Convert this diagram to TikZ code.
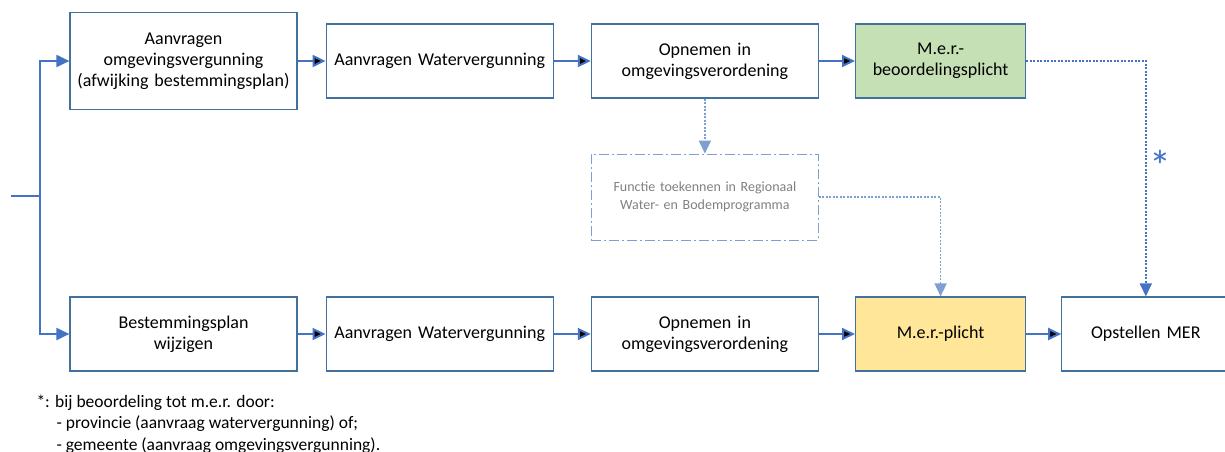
\documentclass[tikz,border=0pt]{standalone}
\usepackage{fontspec}
\setmainfont{Carlito}
\usetikzlibrary{arrows.meta,positioning}
\definecolor{randblauw}{HTML}{41719C}
\definecolor{pijlblauw}{HTML}{4472C4}
\definecolor{lichtblauw}{HTML}{7F9FD3}
\definecolor{mergroen}{HTML}{C5E0B4}
\definecolor{mergeel}{HTML}{FFE699}
\begin{document}
\begin{tikzpicture}[x=1pt,y=-1pt,>={Triangle[length=13pt,width=12pt]},
                    node distance=28pt]
  \tikzstyle{stap}=[draw=randblauw,line width=1.2pt,minimum width=227pt,
                    minimum height=74pt,text width=222pt,align=center,inner sep=0pt,
                    font=\fontsize{18}{21}\selectfont]
  \tikzstyle{functie}=[stap,draw=lichtblauw,line width=1pt,text=gray,
                    dash pattern=on 10pt off 3pt on 2pt off 3pt,minimum height=86pt,
                    font=\fontsize{14}{18}\selectfont]
  \tikzstyle{stroom}=[->,draw=pijlblauw,line width=2pt]
  \tikzstyle{stip}=[->,line width=1.6pt,dash pattern=on 2pt off 1.5pt]
  \useasboundingbox (0,0) rectangle (1225,452);

  \node[stap,minimum height=97pt] (A1) at (183.5,61)
       {Aanvragen\\omgevingsvergunning\\(afwijking bestemmingsplan)};
  \node[stap]          (A2) [right=28pt of A1] {Aanvragen Watervergunning};
  \node[stap]          (A3) [right=37pt of A2] {Opnemen in\\omgevingsverordening};
  \node[stap,fill=mergroen,minimum width=170pt,text width=165pt]
                       (A4) [right=36pt of A3] {M.e.r.-\\beoordelingsplicht};
  \node[functie]       (F)  [below=55pt of A3]
       {Functie toekennen in Regionaal\\Water- en Bodemprogramma};

  \node[stap]          (B1) at (183.5,334)   {Bestemmingsplan\\wijzigen};
  \node[stap]          (B2) [right=28pt of B1] {Aanvragen Watervergunning};
  \node[stap]          (B3) [right=37pt of B2] {Opnemen in\\omgevingsverordening};
  \node[stap,fill=mergeel,minimum width=170pt,text width=165pt]
                       (B4) [right=36pt of B3] {M.e.r.-plicht};
  \node[stap,minimum width=168pt,text width=160pt]
                       (B5) [right=35pt of B4] {Opstellen MER};

  \coordinate (begin)  at (11,196);
  \coordinate (splits) at (40,196);
  \node[text=pijlblauw,font=\fontsize{44}{44}\selectfont] (ster) at (1160,166) {*};
  \node[anchor=base west,align=left,font=\fontsize{17.5}{21.5}\selectfont]
       (noot) at (33,450)
       {*: bij beoordeling tot m.e.r. door:\\
        \hspace*{20pt}- provincie (aanvraag watervergunning) of;\\
        \hspace*{20pt}- gemeente (aanvraag omgevingsvergunning).};

  \draw[draw=pijlblauw,line width=2pt] (begin) -- (splits);
  \draw[stroom] (splits) |- (A1);
  \draw[stroom] (splits) |- (B1);
  \path[stroom] (A1) edge (A2)
                (A2) edge (A3)
                (A3) edge (A4)
                (B1) edge (B2)
                (B2) edge (B3)
                (B3) edge (B4)
                (B4) edge (B5);
  \draw[stip,draw=lichtblauw] (A3) -- (F);
  \draw[stip,draw=lichtblauw] (F.east) -| (B4);
  \draw[stip,draw=pijlblauw] (A4.east) -| (B5);
\end{tikzpicture}
\end{document}
